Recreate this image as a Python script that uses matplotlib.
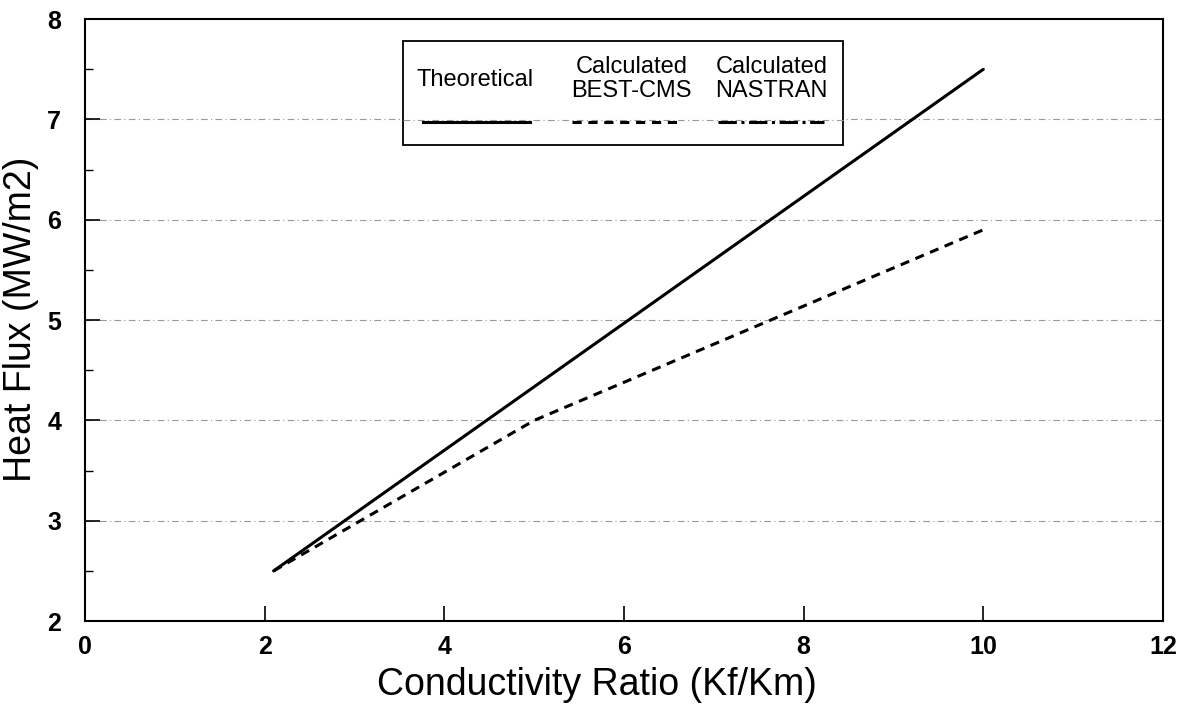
import numpy as np
import matplotlib.pyplot as plt
from matplotlib.lines import Line2D
from matplotlib.patches import Rectangle
from matplotlib.ticker import MultipleLocator

plt.rcParams['font.family'] = ['Liberation Sans', 'DejaVu Sans']

# data
ratio_theory = [2.1, 10.0]
flux_theory = [2.5, 7.5]
ratio_best = [2.1, 5.0, 10.0]
flux_best = [2.5, 4.0, 5.9]

fig = plt.figure(figsize=(11.85, 7.09), dpi=100)
ax = fig.add_axes([0.0717, 0.124, 0.9097, 0.849])

ax.plot(ratio_theory, flux_theory, color='black', lw=2.2, solid_capstyle='round')
ax.plot(ratio_best, flux_best, color='black', lw=2.2, linestyle=(0, (3, 2.2)))

ax.set_xlim(0, 12)
ax.set_ylim(2, 8)
ax.xaxis.set_major_locator(MultipleLocator(2))
ax.yaxis.set_major_locator(MultipleLocator(1))
ax.yaxis.set_minor_locator(MultipleLocator(0.5))
ax.tick_params(axis='both', which='major', direction='in', length=11, width=1.2,
               labelsize=18)
ax.tick_params(axis='x', which='major', pad=10)
ax.tick_params(axis='y', which='major', pad=17)
ax.tick_params(axis='y', which='minor', direction='in', length=6, width=1.0)
for lab in ax.get_xticklabels() + ax.get_yticklabels():
    lab.set_fontweight('bold')
for sp in ax.spines.values():
    sp.set_linewidth(1.5)

for yv in [3, 4, 5, 6, 7]:
    ax.axhline(yv, color='#999999', lw=0.8, linestyle=(0, (6, 3, 1, 3)), zorder=0)

# axis titles placed as in the scan
fig.text(0.504, 0.0197, 'Conductivity Ratio (Kf/Km)', fontsize=27,
         ha='center', va='baseline')
fig.text(0.018, 0.549, 'Heat Flux (MW/m2)', fontsize=27, rotation=90,
         ha='center', va='center')

# hand-drawn legend box: text above line samples
tr = ax.transAxes
ax.add_patch(Rectangle((0.295, 0.791), 0.408, 0.172, transform=tr, fill=True,
                       facecolor='white', edgecolor='black', lw=1.3, zorder=3))
ax.text(0.362, 0.899, 'Theoretical', transform=tr, ha='center', va='center',
        fontsize=17, zorder=4)
ax.text(0.507, 0.900, 'Calculated\nBEST-CMS', transform=tr, ha='center', va='center',
        fontsize=17, linespacing=1.12, zorder=4)
ax.text(0.637, 0.900, 'Calculated\nNASTRAN', transform=tr, ha='center', va='center',
        fontsize=17, linespacing=1.12, zorder=4)
ax.add_line(Line2D([0.314, 0.413], [0.829, 0.829], transform=tr, color='black',
                   lw=2.2, zorder=4))
ax.add_line(Line2D([0.452, 0.550], [0.829, 0.829], transform=tr, color='black',
                   lw=2.2, linestyle=(0, (3, 2.2)), zorder=4))
ax.add_line(Line2D([0.587, 0.686], [0.829, 0.829], transform=tr, color='black',
                   lw=2.2, linestyle=(0, (6, 1.5, 1, 1.5)), zorder=4))
ax.add_line(Line2D([0.295, 0.703], [0.832, 0.832], transform=tr, color='#999999',
                   lw=0.8, linestyle=(0, (6, 3, 1, 3)), zorder=3.5))

fig.savefig('out.png', dpi=100)
